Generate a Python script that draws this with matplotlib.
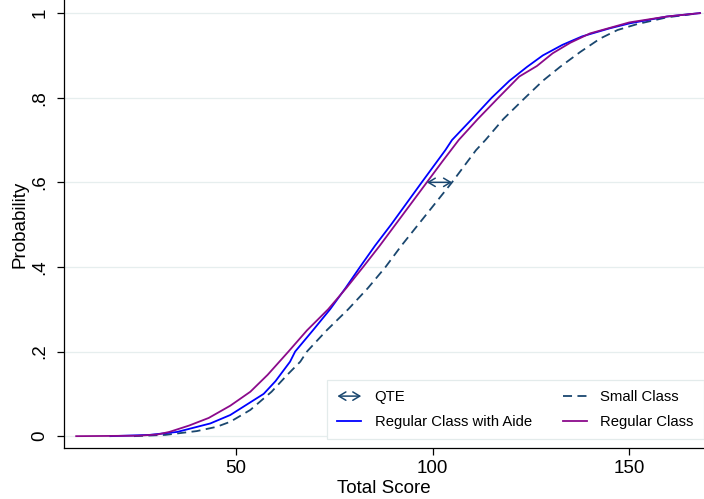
import matplotlib.pyplot as plt
from matplotlib.lines import Line2D
from matplotlib.patches import FancyArrowPatch
from matplotlib.legend_handler import HandlerBase

plt.rcParams['font.family'] = ['Liberation Sans', 'DejaVu Sans']

# score -> cumulative probability
small_x = [24, 32, 40, 45, 48.5, 53.6, 59, 63, 66.3, 68, 73, 78.5, 83.5, 88, 92, 96.3,
           100.6, 104.9, 111, 113.4, 118, 123.5, 128, 132.4, 137.5, 142.6, 147, 152, 159.6, 168]
small_p = [0, 0.003, 0.012, 0.022, 0.034, 0.062, 0.105, 0.145, 0.176, 0.2, 0.25, 0.3, 0.35, 0.4, 0.45, 0.5,
           0.55, 0.6, 0.676, 0.7, 0.75, 0.8, 0.84, 0.873, 0.908, 0.94, 0.96, 0.974, 0.99, 1]

aide_x = [18, 28, 35, 43.4, 48.5, 53.6, 57, 60, 63.7, 65, 69.5, 73.9, 77.8, 81.5, 85.3, 89.4,
          93.3, 97.2, 103.2, 104.9, 110, 115, 119.5, 124, 128, 133, 138, 145, 150.2, 159.6, 168]
aide_p = [0, 0.003, 0.01, 0.03, 0.05, 0.08, 0.1, 0.13, 0.176, 0.2, 0.25, 0.3, 0.35, 0.4, 0.45, 0.5,
          0.55, 0.6, 0.676, 0.7, 0.75, 0.8, 0.84, 0.873, 0.9, 0.925, 0.945, 0.964, 0.976, 0.992, 1]

reg_x = [9.3, 25, 30, 33, 38, 43, 48.5, 53.6, 58, 63.3, 68, 73.4, 78, 82.3, 86.5, 90.5,
         94.5, 98.5, 102.5, 106.6, 111.5, 116.7, 122, 126.5, 130.5, 135, 140, 145, 150, 159.6, 168]
reg_p = [0, 0.001, 0.004, 0.01, 0.025, 0.043, 0.072, 0.105, 0.145, 0.2, 0.25, 0.3, 0.35, 0.4, 0.45, 0.5,
         0.55, 0.6, 0.65, 0.7, 0.75, 0.8, 0.85, 0.875, 0.905, 0.93, 0.952, 0.965, 0.978, 0.992, 1]

qte_level = 0.6
qte_from = 98.5
qte_to = 104.9

navy = '#1a476f'
blue = '#0000ff'
purple = '#8b0a8b'


class ArrowHandler(HandlerBase):
    def create_artists(self, legend, orig_handle, xdescent, ydescent,
                       width, height, fontsize, trans):
        y = height / 2 - ydescent
        a = FancyArrowPatch((-xdescent, y), (width - xdescent, y),
                            arrowstyle='<->,head_length=5,head_width=3',
                            color=navy, lw=1.1, mutation_scale=1,
                            shrinkA=0, shrinkB=0, transform=trans)
        return [a]


fig = plt.figure(figsize=(7.04, 4.99), dpi=100)
ax = fig.add_axes([64 / 704, 51 / 499, 640 / 704, 448 / 499])

ax.plot(small_x, small_p, color=navy, lw=1.3, linestyle=(0, (5, 3)), zorder=3)
ax.plot(aide_x, aide_p, color=blue, lw=1.3, zorder=4)
ax.plot(reg_x, reg_p, color=purple, lw=1.3, zorder=5)

qte = FancyArrowPatch((qte_from, qte_level), (qte_to, qte_level),
                      arrowstyle='<->,head_length=5,head_width=3', mutation_scale=1,
                      color=navy, lw=1.1, shrinkA=0, shrinkB=0, zorder=6)
ax.add_patch(qte)

ax.set_xlim(6.2, 169.0)
ax.set_ylim(-0.028, 1.031)
ax.set_xticks([50, 100, 150])
ax.set_yticks([0, 0.2, 0.4, 0.6, 0.8, 1])
ax.set_yticklabels(['0', '.2', '.4', '.6', '.8', '1'], rotation=90, va='center')
ax.tick_params(labelsize=13.5, length=5, width=0.9, color='black')
ax.tick_params(axis='y', pad=6)
ax.grid(axis='y', color='#e6eeee', lw=0.9)
ax.set_axisbelow(True)
for s in ['top', 'right']:
    ax.spines[s].set_visible(False)
for s in ['left', 'bottom']:
    ax.spines[s].set_linewidth(0.9)
ax.set_xlabel('Total Score', fontsize=13.5, labelpad=2)
ax.set_ylabel('Probability', fontsize=13.5, labelpad=2)

qte_handle = Line2D([], [], color=navy)
handles = [qte_handle,
           Line2D([], [], color=blue, lw=1.3),
           Line2D([], [], color=navy, lw=1.3, linestyle=(0, (5, 3))),
           Line2D([], [], color=purple, lw=1.3)]
labels = ['QTE', 'Regular Class with Aide', 'Small Class', 'Regular Class']
leg = ax.legend(handles, labels, ncol=2, loc='upper left', bbox_to_anchor=(0.411, 0.152),
                borderaxespad=0, fontsize=10.7, handlelength=1.6, handletextpad=0.9,
                columnspacing=2.1, labelspacing=0.7, borderpad=0.7, fancybox=False,
                framealpha=1, edgecolor='#e3ebeb', handler_map={qte_handle: ArrowHandler()})
leg.get_frame().set_linewidth(0.9)

fig.savefig('out.png', dpi=100)
